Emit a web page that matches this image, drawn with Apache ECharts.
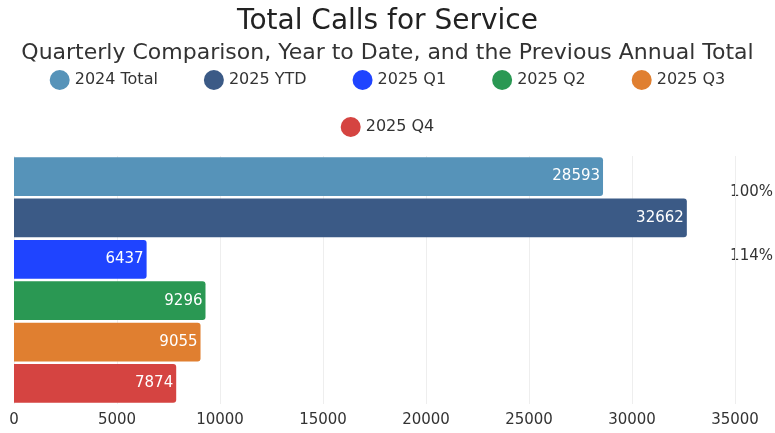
<!DOCTYPE html>
<html>
<head>
<meta charset="utf-8">
<script src="https://cdn.jsdelivr.net/npm/echarts@6/dist/echarts.min.js"></script>
<style>
  html, body { margin: 0; padding: 0; background: #ffffff; }
  #chart { width: 775px; height: 433px; }
</style>
</head>
<body>
<div id="chart"></div>
<script>
const seriesNames = ["2024 Total", "2025 YTD", "2025 Q1", "2025 Q2", "2025 Q3", "2025 Q4"];
const seriesValues = [28593, 32662, 6437, 9296, 9055, 7874];
const seriesColors = ["#5693b9", "#3b5a86", "#1f44ff", "#2a9853", "#e07f30", "#d54441"];
const xTicks = [0, 5000, 10000, 15000, 20000, 25000, 30000, 35000];

const chart = echarts.init(document.getElementById("chart"));
const font = "'DejaVu Sans', sans-serif";

// share of the previous annual total
const pctTexts = [
  Math.round(seriesValues[0] / seriesValues[0] * 100) + "%",
  Math.round(seriesValues[1] / seriesValues[0] * 100) + "%"
];

const option = {
  animation: false,
  textStyle: { fontFamily: font },
  title: [
    {
      text: "Total Calls for Service",
      left: "center",
      top: 3,
      textStyle: { fontSize: 28, fontWeight: "normal", color: "#222", fontFamily: font }
    },
    {
      text: "Quarterly Comparison, Year to Date, and the Previous Annual Total",
      left: "center",
      top: 37,
      textStyle: { fontSize: 22, fontWeight: "normal", color: "#333", fontFamily: font }
    }
  ],
  legend: [
    {
      data: seriesNames.slice(0, 5),
      top: 65,
      left: "center",
      icon: "circle",
      itemWidth: 20,
      itemHeight: 20,
      itemGap: 46,
      textStyle: { fontSize: 16, color: "#333", fontFamily: font }
    },
    {
      data: seriesNames.slice(5),
      top: 112,
      left: "center",
      icon: "circle",
      itemWidth: 20,
      itemHeight: 20,
      textStyle: { fontSize: 16, color: "#333", fontFamily: font }
    }
  ],
  grid: { left: 14, right: 40, top: 156, bottom: 29, containLabel: false },
  xAxis: {
    type: "value",
    min: xTicks[0],
    max: xTicks[xTicks.length - 1],
    interval: 5000,
    axisLine: { show: false },
    axisTick: { show: false },
    splitLine: { lineStyle: { color: "#eeeeee" } },
    axisLabel: { fontSize: 15, color: "#333", margin: 9, formatter: (v) => String(v) }
  },
  yAxis: {
    type: "category",
    data: [""],
    inverse: true,
    axisLine: { show: false },
    axisTick: { show: false },
    axisLabel: { show: false }
  },
  graphic: [
    { type: "text", right: 2, top: 185, style: { text: pctTexts[0], fontSize: 15, fill: "#333", fontFamily: font } },
    { type: "text", right: 2, top: 249, style: { text: pctTexts[1], fontSize: 15, fill: "#333", fontFamily: font } }
  ],
  series: seriesNames.map((name, i) => ({
    name: name,
    type: "bar",
    data: [seriesValues[i]],
    barGap: "7%",
    barCategoryGap: "1%",
    itemStyle: { color: seriesColors[i], borderRadius: [0, 3, 3, 0] },
    label: {
      show: true,
      position: "insideRight",
      color: "#ffffff",
      fontSize: 15,
      offset: [2, 0]
    }
  }))
};

chart.setOption(option);
</script>
</body>
</html>
